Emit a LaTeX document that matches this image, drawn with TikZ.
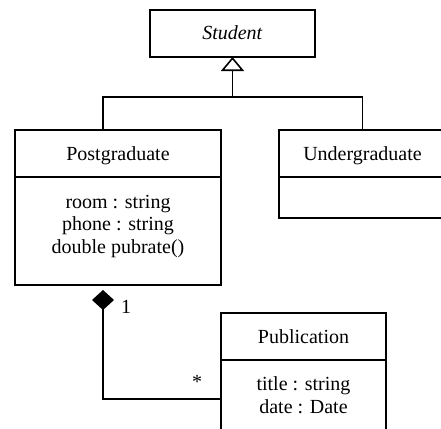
\documentclass[tikz,border=0pt]{standalone}
\usepackage{fontspec}
\setmainfont{Liberation Serif}
\usetikzlibrary{arrows.meta}

\tikzset{
  uml/.style={line width=1.6pt},
  compartment/.style={uml, draw, rectangle, inner sep=0pt, outer sep=0pt,
    font=\fontsize{20}{22.5}\selectfont, text height=13pt, text depth=0pt},
  % multi-line member lists sit on the baseline of their last line
  members/.style={inner sep=0pt, align=center, anchor=base,
    font=\fontsize{20}{22.5}\selectfont},
  mult/.style={inner sep=0pt, font=\fontsize{20}{22.5}\selectfont},
  generalization/.style={uml, -{Triangle[open, length=14pt, width=23pt]}},
  composition/.style={uml, {Diamond[length=20pt, width=22pt]}-},
}

\begin{document}
\begin{tikzpicture}[x=1pt, y=-1pt]
  \useasboundingbox (0,0) rectangle (441,428);
  \clip (0,0) rectangle (441,428);

  % abstract base class
  \node[compartment, minimum width=165pt, minimum height=47pt] (student)
    at (232.5,33.5) {\textit{Student}};

  % Postgraduate
  \node[compartment, minimum width=206pt, minimum height=47pt] (pgname)
    at (118,153.5) {Postgraduate};
  \node[compartment, minimum width=206pt, minimum height=108pt] (pgattr)
    at (118,231) {};
  \node[members] (pgtext) at (118,253)
    {room : string\\phone : string\\double pubrate()};

  % Undergraduate
  \node[compartment, minimum width=167pt, minimum height=47pt] (ugname)
    at (362.5,153.5) {Undergraduate};
  \node[compartment, minimum width=167pt, minimum height=41pt] (ugattr)
    at (362.5,197.5) {};

  % Publication
  \node[compartment, minimum width=165pt, minimum height=47pt] (pubname)
    at (303.5,336.5) {Publication};
  \node[compartment, minimum width=165pt, minimum height=100pt] (pubattr)
    at (303.5,410) {};
  \node[members] (pubtext) at (303.5,413)
    {title : string\\date : Date};

  % inheritance tree
  \coordinate (gen) at (232.5,97);
  \draw[generalization] (gen) -- (student.south);
  \draw[uml] ([xshift=-15pt]pgname.north) |- (gen) -| (ugname.north);

  % composition Postgraduate <>-- Publication
  \coordinate (agg) at (103,290);
  \draw[composition] (agg) |- (pubattr.west |- 0,399);
  \node[mult] (one) at (126,307) {1};
  \node[mult] (many) at (197,382) {*};
\end{tikzpicture}
\end{document}
